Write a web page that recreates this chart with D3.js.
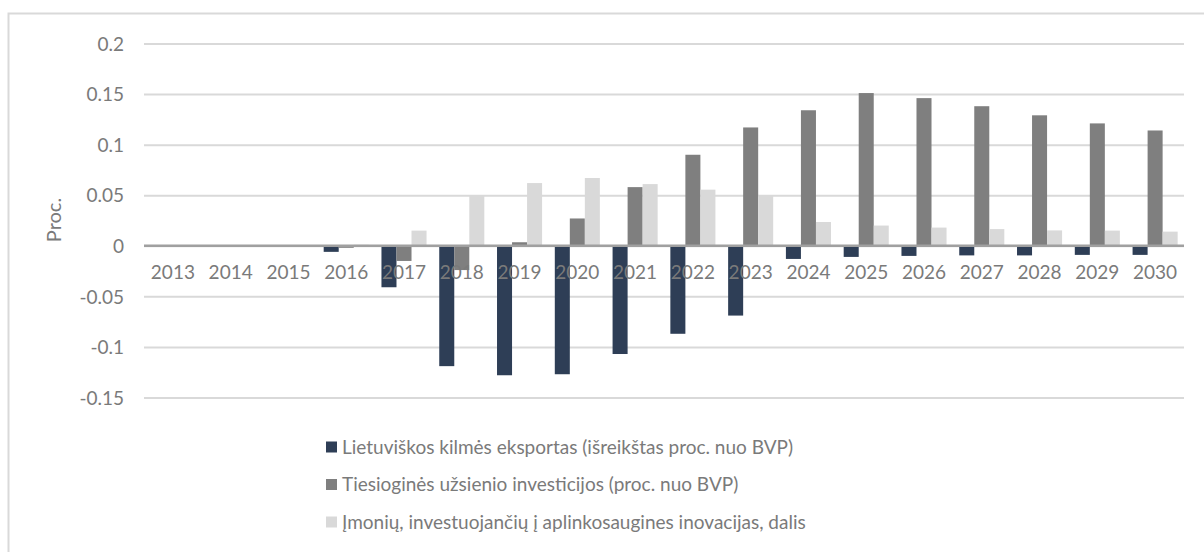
<!DOCTYPE html>
<html>
<head>
<meta charset="utf-8">
<script src="https://cdn.jsdelivr.net/npm/d3@7"></script>
<style>
  html, body { margin: 0; padding: 0; background: #ffffff; }
  svg { display: block; }
  text { font-family: Lato, "Liberation Sans", Arial, sans-serif; fill: #7a7a7a; }
</style>
</head>
<body>
<svg id="chart" width="1204" height="552"></svg>
<script>
// Years on the category axis
const years = ["2013","2014","2015","2016","2017","2018","2019","2020","2021",
               "2022","2023","2024","2025","2026","2027","2028","2029","2030"];

// Series values (share of GDP / share of firms)
const exportValues = [0, 0, 0, -0.006, -0.041, -0.119, -0.128, -0.127, -0.107,
                      -0.087, -0.069, -0.013, -0.011, -0.010, -0.0095, -0.0095, -0.009, -0.009];
const fdiValues = [0, 0, 0, -0.002, -0.015, -0.024, 0.0035, 0.027, 0.058,
                   0.090, 0.117, 0.134, 0.151, 0.146, 0.138, 0.129, 0.121, 0.114];
const innovationValues = [0, 0, 0, 0.001, 0.015, 0.050, 0.062, 0.067, 0.061,
                          0.0555, 0.050, 0.0235, 0.020, 0.018, 0.0165, 0.0152, 0.015, 0.014];

const seriesNames = [
  "Lietuviškos kilmės eksportas (išreikštas proc. nuo BVP)",
  "Tiesioginės užsienio investicijos (proc. nuo BVP)",
  "Įmonių, investuojančių į aplinkosaugines inovacijas, dalis"
];
const seriesColors = ["#2e3e56", "#7f7f7f", "#d9d9d9"];

const yTicks = [-0.15, -0.1, -0.05, 0, 0.05, 0.1, 0.15, 0.2];
const yLabel = "Proc.";

const series = [exportValues, fdiValues, innovationValues].map((vals, i) => ({
  name: seriesNames[i], color: seriesColors[i], values: vals
}));

const svg = d3.select("#chart");

// Chart area frame (only top and left edges fall inside the view)
svg.append("rect")
  .attr("x", 8.5).attr("y", 13.5)
  .attr("width", 1230).attr("height", 600)
  .attr("fill", "none").attr("stroke", "#d9d9d9").attr("stroke-width", 2);

const plot = { left: 144, right: 1184, top: 43.5, bottom: 397.5 };

const y = d3.scaleLinear()
  .domain([-0.15, 0.2])
  .range([plot.bottom, plot.top]);

const x0 = d3.scaleBand()
  .domain(years)
  .range([plot.left, plot.right])
  .paddingInner(0.22)
  .paddingOuter(0.11);

const x1 = d3.scaleBand()
  .domain(d3.range(series.length))
  .range([0, x0.bandwidth()]);

// Horizontal gridlines
const yAxis = d3.axisLeft(y)
  .tickValues(yTicks)
  .tickSize(-(plot.right - plot.left))
  .tickPadding(20)
  .tickFormat(d => d === 0 ? "0" : String(+d.toFixed(2)));

const gy = svg.append("g")
  .attr("transform", `translate(${plot.left},0)`)
  .call(yAxis);
gy.select(".domain").remove();
gy.selectAll(".tick line")
  .attr("stroke", "#d9d9d9").attr("stroke-width", 2);
gy.selectAll(".tick text")
  .attr("fill", "#7a7a7a")
  .style("font-size", "19px")
  .attr("dy", "0.35em");

// Bars
const groups = svg.append("g")
  .selectAll("g")
  .data(series)
  .join("g")
  .attr("fill", d => d.color);

groups.each(function(s, si) {
  d3.select(this).selectAll("rect")
    .data(s.values.map((v, i) => ({ year: years[i], v })))
    .join("rect")
    .attr("x", d => x0(d.year) + x1(si))
    .attr("width", x1.bandwidth())
    .attr("y", d => y(Math.max(0, d.v)))
    .attr("height", d => Math.abs(y(d.v) - y(0)));
});

// Zero axis line
svg.append("line")
  .attr("x1", plot.left).attr("x2", plot.right)
  .attr("y1", y(0)).attr("y2", y(0))
  .attr("stroke", "#a0a0a0").attr("stroke-width", 2.5);

// Category labels sit just under the zero line
const xAxis = d3.axisBottom(x0).tickSize(0).tickPadding(20);
const gx = svg.append("g")
  .attr("transform", `translate(0,${y(0)})`)
  .call(xAxis);
gx.select(".domain").remove();
gx.selectAll(".tick text")
  .attr("fill", "#7a7a7a")
  .style("font-size", "19px");

// Y axis title
svg.append("text")
  .attr("transform", `translate(61,220) rotate(-90)`)
  .attr("text-anchor", "middle")
  .style("font-size", "20px")
  .text(yLabel);

// Legend
const legend = svg.append("g")
  .selectAll("g")
  .data(series)
  .join("g")
  .attr("transform", (d, i) => `translate(326,${447 + i * 37.5})`);

legend.append("rect")
  .attr("x", 0).attr("y", -5.5)
  .attr("width", 11).attr("height", 11)
  .attr("fill", d => d.color);

legend.append("text")
  .attr("x", 16).attr("y", 0)
  .attr("dy", "0.35em")
  .style("font-size", "19px")
  .text(d => d.name);
</script>
</body>
</html>
